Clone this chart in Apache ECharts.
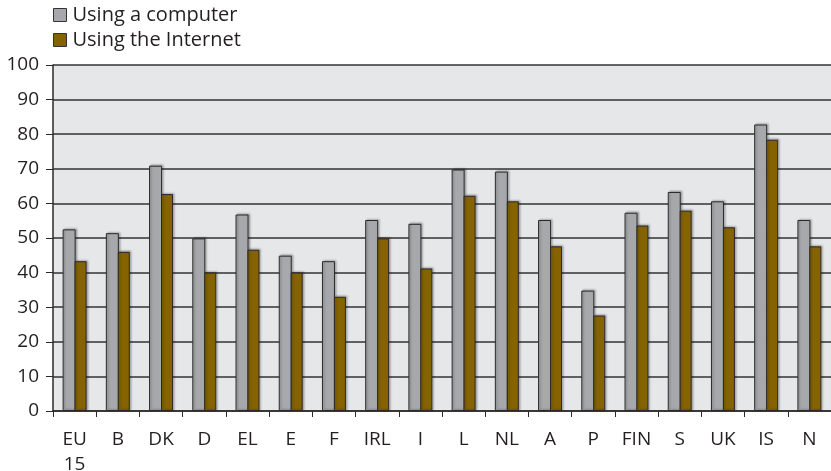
<!DOCTYPE html>
<html>
<head>
<meta charset="utf-8">
<script src="https://cdn.jsdelivr.net/npm/echarts@6/dist/echarts.min.js"></script>
<style>
  html, body { margin: 0; padding: 0; background: #fff; }
  #chart { width: 831px; height: 471px; }
</style>
</head>
<body>
<div id="chart"></div>
<script>
// Country codes along the x axis
const categories = ['EU\n15', 'B', 'DK', 'D', 'EL', 'E', 'F', 'IRL', 'I', 'L', 'NL', 'A', 'P', 'FIN', 'S', 'UK', 'IS', 'N'];
// Share of people (%) using a computer
const computerValues = [52.5, 51.4, 70.9, 49.9, 56.8, 44.9, 43.3, 55.2, 54.1, 69.8, 69.2, 55.2, 34.8, 57.3, 63.3, 60.6, 82.8, 55.2];
// Share of people (%) using the Internet
const internetValues = [43.3, 46.0, 62.7, 40.0, 46.6, 40.0, 33.0, 49.9, 41.2, 62.2, 60.6, 47.6, 27.6, 53.6, 57.9, 53.1, 78.4, 47.6];
// Value axis ticks
const yTicks = { min: 0, max: 100, interval: 10 };

const font = '"Open Sans", "Noto Sans", sans-serif';
const ink = '#231f20';

const chart = echarts.init(document.getElementById('chart'), null, { renderer: 'canvas' });

const barStyle = (color) => ({
  color: color,
  borderColor: '#2a2a2a',
  borderWidth: 1,
  shadowColor: 'rgba(0,0,0,0.25)',
  shadowBlur: 2,
  shadowOffsetX: 1.5,
  shadowOffsetY: -1
});

chart.setOption({
  animation: false,
  textStyle: { fontFamily: font, color: ink },
  legend: {
    orient: 'vertical',
    left: 48,
    top: 0,
    itemWidth: 13,
    itemHeight: 13,
    itemGap: 5,
    icon: 'rect',
    textStyle: { fontFamily: font, fontSize: 20, lineHeight: 20, color: ink, padding: [0, 0, 0, 1] },
    data: [
      { name: 'Using a computer', itemStyle: { borderColor: '#333', borderWidth: 1 } },
      { name: 'Using the Internet', itemStyle: { borderColor: '#333', borderWidth: 1 } }
    ]
  },
  grid: {
    left: 53,
    right: 0,
    top: 65,
    bottom: 60,
    outerBoundsMode: 'none',
    containLabel: false,
    show: true,
    backgroundColor: '#e6e7e9',
    borderWidth: 0
  },
  xAxis: {
    type: 'category',
    data: categories,
    axisLine: { show: true, lineStyle: { color: '#2a2a2a', width: 1.5 } },
    axisTick: { show: true, length: 6, alignWithLabel: false, lineStyle: { color: '#2a2a2a', width: 1 } },
    axisLabel: {
      fontFamily: font,
      fontSize: 19,
      color: ink,
      margin: 16,
      lineHeight: 25,
      interval: 0
    }
  },
  yAxis: {
    type: 'value',
    min: yTicks.min,
    max: yTicks.max,
    interval: yTicks.interval,
    axisLine: { show: true, lineStyle: { color: '#2a2a2a', width: 1.5 } },
    axisTick: { show: true, length: 7, lineStyle: { color: '#2a2a2a', width: 1 } },
    axisLabel: { fontFamily: font, fontSize: 19, color: ink, margin: 14 },
    splitLine: { show: true, lineStyle: { color: '#333', width: 1.5 } }
  },
  series: [
    {
      name: 'Using a computer',
      type: 'bar',
      data: computerValues,
      barWidth: 13,
      barGap: '-8%',
      itemStyle: barStyle('#a7a8ab')
    },
    {
      name: 'Using the Internet',
      type: 'bar',
      data: internetValues,
      barWidth: 12,
      itemStyle: barStyle('#856300')
    }
  ]
});
</script>
</body>
</html>
